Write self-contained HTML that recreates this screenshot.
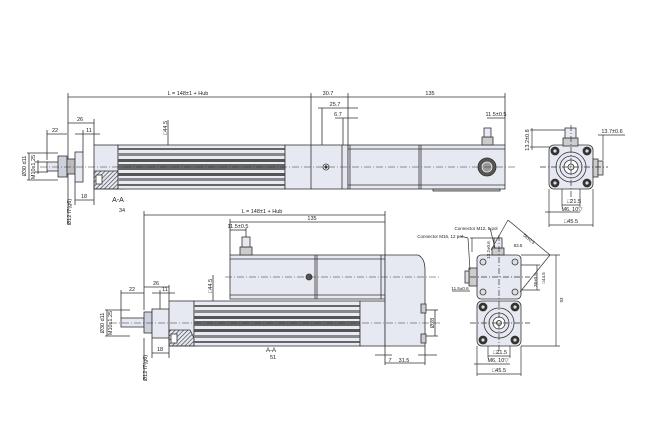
<!DOCTYPE html>
<html><head><meta charset="utf-8"><style>
html,body{margin:0;padding:0;background:#fff;}
svg{display:block;}
text{font-family:"Liberation Sans",sans-serif;fill:#222;}
</style></head><body>
<svg width="650" height="429" viewBox="0 0 650 429" xmlns="http://www.w3.org/2000/svg">
<defs>
<pattern id="h" width="3" height="3" patternUnits="userSpaceOnUse" patternTransform="rotate(45)"><line x1="0" y1="0" x2="0" y2="3" stroke="#333" stroke-width="1.2"/></pattern>
</defs>
<g stroke="#333" stroke-width="0.8" fill="none">
<!-- ========== TOP ACTUATOR ========== -->
<!-- dims -->
<line x1="68" y1="97" x2="505" y2="97"/>
<line x1="68" y1="93" x2="68" y2="182"/>
<line x1="311" y1="93" x2="311" y2="145"/>
<line x1="348" y1="93" x2="348" y2="145"/>
<line x1="505" y1="93" x2="505" y2="145"/>
<line x1="318" y1="108" x2="358" y2="108"/>
<line x1="322" y1="108" x2="322" y2="160"/>
<line x1="335" y1="118" x2="358" y2="118"/>
<line x1="343" y1="118" x2="343" y2="145"/>
<line x1="487" y1="118" x2="505" y2="118"/>
<line x1="68" y1="123" x2="94" y2="123"/><line x1="94" y1="119" x2="94" y2="145"/>
<line x1="47" y1="134" x2="67" y2="134"/><line x1="47" y1="130" x2="47" y2="160"/>
<line x1="75" y1="134" x2="100" y2="134"/><line x1="83" y1="130" x2="83" y2="152"/>
<line x1="75" y1="200" x2="94" y2="200"/><line x1="75" y1="182" x2="75" y2="205"/><line x1="94" y1="189" x2="94" y2="205"/>
<line x1="27" y1="153" x2="58" y2="153"/><line x1="27" y1="180" x2="58" y2="180"/><line x1="29" y1="153" x2="29" y2="180"/>
<line x1="35" y1="162" x2="48" y2="162"/><line x1="35" y1="172" x2="48" y2="172"/><line x1="38" y1="160" x2="38" y2="174"/>
<line x1="68" y1="182" x2="68" y2="225"/>
<line x1="168" y1="120" x2="168" y2="189"/>
</g>
<g font-size="5.5" text-anchor="middle">
<text x="188" y="95">L = 148±1 + Hub</text>
<text x="328" y="95">30.7</text>
<text x="430" y="95">135</text>
<text x="335" y="106">25.7</text>
<text x="338" y="116">6.7</text>
<text x="496" y="116">11.5±0.5</text>
<text x="80" y="121">26</text>
<text x="55" y="132">22</text>
<text x="89" y="132">11</text>
<text x="84" y="198">18</text>
<text x="118" y="202" font-size="7">A-A</text>
<text x="122" y="212">34</text>
<text transform="translate(26,166) rotate(-90)">Ø30 d11</text>
<text transform="translate(35,167) rotate(-90)">M10x1.25</text>
<text transform="translate(71,212) rotate(-90)">Ø12 f7(g6)</text>
<text transform="translate(167,128) rotate(-90)">□44.5</text>
</g>
<g stroke="#333" stroke-width="0.8">
<!-- rod -->
<rect x="47" y="162" width="12" height="9" fill="#e6e9f2"/>
<rect x="58" y="156" width="9" height="21" fill="#cdd1dc"/>
<rect x="67" y="159" width="8" height="15" fill="#bbb"/>
<rect x="75" y="152" width="8" height="30" fill="#e6e9f2"/>
<!-- head -->
<rect x="94" y="145" width="24" height="44" fill="#e6e9f2"/>
<polygon points="94,171 118,171 123,189 94,189" fill="url(#h)"/>
<rect x="96" y="175" width="6" height="9" fill="#fff"/>
<!-- tube -->
<rect x="118" y="145" width="167" height="44" fill="#e8ebf3"/>
<rect x="118" y="148" width="167" height="2" fill="#666" stroke="none"/>
<rect x="118" y="153" width="167" height="3" fill="#888" stroke="none"/>
<rect x="118" y="159" width="167" height="3" fill="#555" stroke="none"/>
<rect x="118" y="164" width="167" height="6" fill="#666" stroke="none"/>
<rect x="118" y="173" width="167" height="3" fill="#555" stroke="none"/>
<rect x="118" y="178" width="167" height="3" fill="#888" stroke="none"/>
<rect x="118" y="184" width="167" height="2" fill="#666" stroke="none"/>
<!-- block -->
<rect x="285" y="145" width="63" height="44" fill="#e6e9f2"/>
<line x1="311" y1="145" x2="311" y2="189"/><line x1="342" y1="145" x2="342" y2="189"/>
<circle cx="326" cy="167" r="3" fill="#fff"/><circle cx="326" cy="167" r="1.2" fill="#333"/>
<!-- motor -->
<rect x="348" y="145" width="157" height="44" fill="#e6e9f2"/>
<line x1="419" y1="145" x2="419" y2="189"/><line x1="421" y1="145" x2="421" y2="189"/>
<line x1="350" y1="145" x2="350" y2="189"/>
<line x1="348" y1="149" x2="505" y2="149"/><line x1="348" y1="185" x2="505" y2="185"/>
<rect x="433" y="189" width="67" height="2" fill="#ccc"/>
<circle cx="487" cy="167" r="9" fill="#555"/><circle cx="487" cy="167" r="5" fill="#999" stroke="#eee"/>
<rect x="482" y="137" width="11" height="8" fill="#ccc"/>
<rect x="484" y="128" width="7" height="9" fill="#e6e9f2"/>
<!-- centerline -->
<line x1="40" y1="167" x2="515" y2="167" stroke-dasharray="7 2 1 2" stroke-width="0.6"/>
<!-- ========== TOP END VIEW ========== -->
<rect x="549" y="145" width="44" height="44" rx="5" fill="#e6e9f2"/>
<rect x="593" y="159" width="5" height="18" fill="#ccc"/><rect x="598" y="161" width="5" height="14" fill="#ddd"/>
<rect x="563" y="138" width="15" height="8" fill="#ccc"/><rect x="565" y="128" width="11" height="10" fill="#e6e9f2"/>
<circle cx="571" cy="167" r="15" fill="#e6e9f2"/><circle cx="571" cy="167" r="11" fill="#e6e9f2"/><circle cx="571" cy="167" r="7" fill="#fff"/><circle cx="571" cy="167" r="3" fill="#ddd"/>
<circle cx="555" cy="151" r="4" fill="#333"/><circle cx="587" cy="151" r="4" fill="#333"/><circle cx="555" cy="183" r="4" fill="#333"/><circle cx="587" cy="183" r="4" fill="#333"/>
<circle cx="555" cy="151" r="2" fill="#ddd"/><circle cx="587" cy="151" r="2" fill="#ddd"/><circle cx="555" cy="183" r="2" fill="#ddd"/><circle cx="587" cy="183" r="2" fill="#ddd"/>
</g>
<g stroke="#333" stroke-width="0.7" fill="none">
<line x1="540" y1="167" x2="608" y2="167" stroke-dasharray="6 2 1 2"/>
<line x1="571" y1="125" x2="571" y2="200" stroke-dasharray="6 2 1 2"/>
<line x1="530" y1="130" x2="565" y2="130"/><line x1="530" y1="147" x2="550" y2="147"/><line x1="532" y1="128" x2="532" y2="150"/>
<line x1="598" y1="135" x2="625" y2="135"/><line x1="603" y1="135" x2="603" y2="160"/>
<line x1="549" y1="189" x2="549" y2="227"/><line x1="593" y1="189" x2="593" y2="227"/>
<line x1="562" y1="189" x2="562" y2="207"/><line x1="580" y1="189" x2="580" y2="207"/>
<line x1="562" y1="205" x2="580" y2="205"/><line x1="545" y1="212" x2="580" y2="212"/><line x1="549" y1="225" x2="593" y2="225"/>
</g>
<g font-size="5.5" text-anchor="middle">
<text x="574" y="203">□21.5</text><text x="572" y="211">M6, 10▽</text><text x="571" y="223">□45.5</text>
<text x="612" y="133">13.7±0.6</text>
<text transform="translate(529,140) rotate(-90)">13.2±0.8</text>
</g>
<!-- ========== BOTTOM ACTUATOR ========== -->
<g stroke="#333" stroke-width="0.8" fill="none">
<line x1="144" y1="215" x2="385" y2="215"/><line x1="144" y1="211" x2="144" y2="310"/><line x1="385" y1="211" x2="385" y2="255"/>
<line x1="230" y1="222" x2="385" y2="222"/><line x1="230" y1="219" x2="230" y2="255"/>
<line x1="230" y1="230" x2="246" y2="230"/><line x1="246" y1="228" x2="246" y2="255"/>
<line x1="144" y1="287" x2="169" y2="287"/><line x1="169" y1="285" x2="169" y2="301"/>
<line x1="121" y1="293" x2="144" y2="293"/><line x1="121" y1="290" x2="121" y2="318"/>
<line x1="152" y1="293" x2="175" y2="293"/><line x1="160" y1="290" x2="160" y2="309"/>
<line x1="152" y1="353" x2="169" y2="353"/><line x1="152" y1="338" x2="152" y2="358"/><line x1="169" y1="346" x2="169" y2="358"/>
<line x1="105" y1="310" x2="130" y2="310"/><line x1="105" y1="336" x2="130" y2="336"/><line x1="107" y1="310" x2="107" y2="336"/>
<line x1="144" y1="338" x2="144" y2="380"/>
<line x1="213" y1="275" x2="213" y2="346"/>
<line x1="385" y1="346" x2="385" y2="365"/><line x1="425" y1="346" x2="425" y2="365"/>
<line x1="375" y1="355" x2="392" y2="355"/><line x1="418" y1="355" x2="437" y2="355"/>
<line x1="385" y1="363" x2="425" y2="363"/>
<line x1="425" y1="310" x2="438" y2="310"/><line x1="425" y1="336" x2="438" y2="336"/><line x1="435" y1="310" x2="435" y2="336"/>
</g>
<g font-size="5.5" text-anchor="middle">
<text x="262" y="213">L = 148±1 + Hub</text>
<text x="312" y="220">135</text>
<text x="238" y="228">11.5±0.5</text>
<text x="156" y="285">26</text>
<text x="132" y="291">22</text>
<text x="165" y="291">11</text>
<text x="160" y="351">18</text>
<text x="271" y="352" font-size="6">A-A</text>
<text x="273" y="359">51</text>
<text x="390" y="362">7</text>
<text x="404" y="362">31.5</text>
<text transform="translate(104,323) rotate(-90)">Ø30 d11</text>
<text transform="translate(112,323) rotate(-90)">M10x1.25</text>
<text transform="translate(147,368) rotate(-90)">Ø12 f7(g6)</text>
<text transform="translate(212,286) rotate(-90)">□44.5</text>
<text transform="translate(434,323) rotate(-90)">Ø28</text>
</g>
<g stroke="#333" stroke-width="0.8">
<rect x="121" y="318" width="23" height="9" fill="#e6e9f2"/>
<rect x="144" y="312" width="8" height="21" fill="#cdd1dc"/>
<rect x="152" y="309" width="17" height="29" fill="#e6e9f2"/>
<rect x="169" y="301" width="25" height="45" fill="#e6e9f2"/>
<polygon points="169,330 190,330 198,346 169,346" fill="url(#h)"/>
<rect x="171" y="334" width="6" height="9" fill="#fff"/>
<rect x="194" y="301" width="166" height="45" fill="#e8ebf3"/>
<rect x="194" y="305" width="166" height="2" fill="#666" stroke="none"/>
<rect x="194" y="310" width="166" height="3" fill="#888" stroke="none"/>
<rect x="194" y="316" width="166" height="3" fill="#555" stroke="none"/>
<rect x="194" y="321" width="166" height="5" fill="#666" stroke="none"/>
<rect x="194" y="329" width="166" height="3" fill="#555" stroke="none"/>
<rect x="194" y="335" width="166" height="3" fill="#888" stroke="none"/>
<rect x="194" y="341" width="166" height="2" fill="#666" stroke="none"/>
<rect x="360" y="301" width="25" height="45" fill="#e6e9f2"/>
<!-- motor above -->
<rect x="230" y="255" width="155" height="44" fill="#e6e9f2"/>
<line x1="315" y1="255" x2="315" y2="299"/><line x1="317" y1="255" x2="317" y2="299"/>
<line x1="230" y1="259" x2="385" y2="259"/><line x1="230" y1="295" x2="385" y2="295"/>
<line x1="381" y1="255" x2="381" y2="299"/>
<circle cx="309" cy="277" r="3" fill="#555"/>
<rect x="240" y="247" width="12" height="8" fill="#ccc"/><rect x="242" y="237" width="8" height="10" fill="#e6e9f2"/>
<!-- end cap -->
<path d="M385,255 L418,255 Q425,258 425,270 L425,346 L385,346 Z" fill="#e6e9f2"/>
<rect x="421" y="304" width="5" height="9" fill="#ccc"/><rect x="421" y="334" width="5" height="9" fill="#ccc"/>
<line x1="110" y1="323" x2="440" y2="323" stroke-dasharray="7 2 1 2" stroke-width="0.6"/>
<line x1="225" y1="277" x2="440" y2="277" stroke-dasharray="7 2 1 2" stroke-width="0.6"/>
<!-- ========== BOTTOM END VIEW ========== -->
<rect x="477" y="255" width="44" height="44" rx="4" fill="#e6e9f2"/>
<rect x="477" y="301" width="44" height="45" rx="5" fill="#e6e9f2"/>
<rect x="469" y="268" width="8" height="18" fill="#ccc"/><rect x="465" y="271" width="4" height="12" fill="#ddd"/>
<rect x="492" y="248" width="12" height="7" fill="#ccc"/><rect x="494" y="238" width="8" height="10" fill="#e6e9f2"/>
<circle cx="483" cy="262" r="3" fill="#ddd"/><circle cx="515" cy="262" r="3" fill="#ddd"/><circle cx="483" cy="292" r="3" fill="#ddd"/><circle cx="515" cy="292" r="3" fill="#ddd"/>
<circle cx="499" cy="323" r="15" fill="#e6e9f2"/><circle cx="499" cy="323" r="10" fill="#e6e9f2"/><circle cx="499" cy="323" r="6" fill="#fff"/><circle cx="499" cy="323" r="2.5" fill="#ddd"/>
<circle cx="483" cy="307" r="4" fill="#333"/><circle cx="515" cy="307" r="4" fill="#333"/><circle cx="483" cy="340" r="4" fill="#333"/><circle cx="515" cy="340" r="4" fill="#333"/>
<circle cx="483" cy="307" r="2" fill="#ddd"/><circle cx="515" cy="307" r="2" fill="#ddd"/><circle cx="483" cy="340" r="2" fill="#ddd"/><circle cx="515" cy="340" r="2" fill="#ddd"/>
</g>
<g stroke="#333" stroke-width="0.7" fill="none">
<line x1="470" y1="277" x2="530" y2="277" stroke-dasharray="6 2 1 2"/>
<line x1="470" y1="323" x2="530" y2="323" stroke-dasharray="6 2 1 2"/>
<line x1="499" y1="235" x2="499" y2="355" stroke-dasharray="6 2 1 2"/>
<line x1="521" y1="255" x2="560" y2="255"/><line x1="521" y1="346" x2="560" y2="346"/><line x1="556" y1="255" x2="556" y2="346"/>
<line x1="508" y1="220" x2="550" y2="255"/><line x1="508" y1="220" x2="491" y2="250"/><line x1="550" y1="255" x2="520" y2="292"/>
<line x1="521" y1="265" x2="540" y2="265"/><line x1="521" y1="290" x2="540" y2="290"/><line x1="537" y1="265" x2="537" y2="290"/>
<line x1="470" y1="238" x2="495" y2="238"/><line x1="472" y1="238" x2="472" y2="252"/>
<line x1="490" y1="228" x2="495" y2="248"/><line x1="460" y1="236" x2="468" y2="238"/><line x1="468" y1="238" x2="470" y2="270"/>
<line x1="452" y1="291" x2="470" y2="291"/>
<line x1="477" y1="346" x2="477" y2="376"/><line x1="521" y1="346" x2="521" y2="376"/>
<line x1="488" y1="346" x2="488" y2="358"/><line x1="510" y1="346" x2="510" y2="358"/>
<line x1="488" y1="356" x2="510" y2="356"/><line x1="474" y1="364" x2="510" y2="364"/><line x1="477" y1="374" x2="521" y2="374"/>
</g>
<g font-size="4.5" text-anchor="middle">
<text x="476" y="230">Connector M12, 5 pol</text>
<text x="440" y="238">Connector M16, 12 pol</text>
<text x="460" y="290">11.5±0.6</text>
<text x="528" y="240" transform="rotate(40,528,240)">56±0.5</text>
<text x="518" y="247">83.5</text>
<text transform="translate(490,250) rotate(-90)">13.2±0.6</text>
<text transform="translate(545,278) rotate(-90)">□44.5</text>
<text transform="translate(537,280) rotate(-90)">36±0.5</text>
<text transform="translate(563,300) rotate(-90)">93</text>
</g>
<g font-size="5.5" text-anchor="middle">
<text x="500" y="354">□21.5</text><text x="498" y="362">M6, 10▽</text><text x="499" y="372">□45.5</text>
</g>
</svg>
</body></html>
